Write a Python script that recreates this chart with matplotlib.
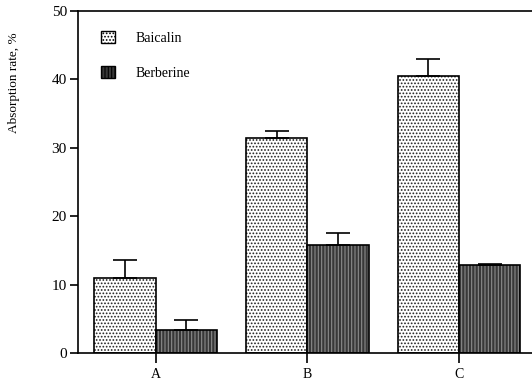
import numpy as np
import matplotlib.pyplot as plt
import matplotlib.patches as mpatches

plt.rcParams['font.family'] = ['Liberation Serif', 'DejaVu Serif']
plt.rcParams['hatch.linewidth'] = 0.8

groups = ['A', 'B', 'C']
baicalin = [11.0, 31.4, 40.5]
baicalin_err = [2.6, 1.1, 2.5]
berberine = [3.4, 15.8, 12.8]
berberine_err = [1.4, 1.8, 0.2]

x = np.arange(len(groups))
w = 0.405

fig = plt.figure(figsize=(5.32, 3.82), dpi=100)
ax = fig.add_axes([0.1466, 0.076, 0.853, 0.895])

# Baicalin: dotted white bars
ax.bar(x - w / 2, baicalin, w, color='white', edgecolor='#222222', hatch='.....', linewidth=0)
ax.bar(x - w / 2, baicalin, w, fill=False, edgecolor='black', linewidth=1.2)
ax.errorbar(x - w / 2, baicalin, yerr=[np.zeros(3), baicalin_err], fmt='none',
            ecolor='black', elinewidth=1.2, capsize=8.5, capthick=1.2)

# Berberine: dark textured bars
ax.bar(x + w / 2, berberine, w, color='#383838', edgecolor='#8c8c8c', hatch='|||||', linewidth=0)
ax.bar(x + w / 2, berberine, w, fill=False, edgecolor='black', linewidth=1.2)
ax.errorbar(x + w / 2, berberine, yerr=[np.zeros(3), berberine_err], fmt='none',
            ecolor='black', elinewidth=1.2, capsize=8.5, capthick=1.2)

ax.set_xlim(-0.513, 2.48)
ax.set_ylim(0, 50)
ax.set_xticks(x)
ax.set_xticklabels(groups, fontsize=10)
ax.set_yticks([0, 10, 20, 30, 40, 50])
ax.tick_params(axis='y', labelsize=11, direction='out', length=6, width=1.2, pad=2)
ax.tick_params(axis='x', direction='out', length=7, width=1.2)
ax.spines['right'].set_visible(False)
for s in ['left', 'bottom', 'top']:
    ax.spines[s].set_linewidth(1.2)

ax.set_ylabel('Absorption rate, %', fontsize=9.5)
ax.yaxis.set_label_coords(-0.127, 0.79)

h1 = mpatches.Patch(facecolor='white', edgecolor='black', hatch='.....', label='Baicalin')
h2 = mpatches.Patch(facecolor='#383838', edgecolor='black', hatch='|||||', label='Berberine')
ax.legend(handles=[h1, h2], loc='upper left', bbox_to_anchor=(0.19, 0.919),
          bbox_transform=fig.transFigure, frameon=False, borderpad=0, borderaxespad=0,
          fontsize=10, handlelength=1.0, handleheight=1.0, handletextpad=1.5, labelspacing=1.5)

fig.savefig('out.png', dpi=100)
